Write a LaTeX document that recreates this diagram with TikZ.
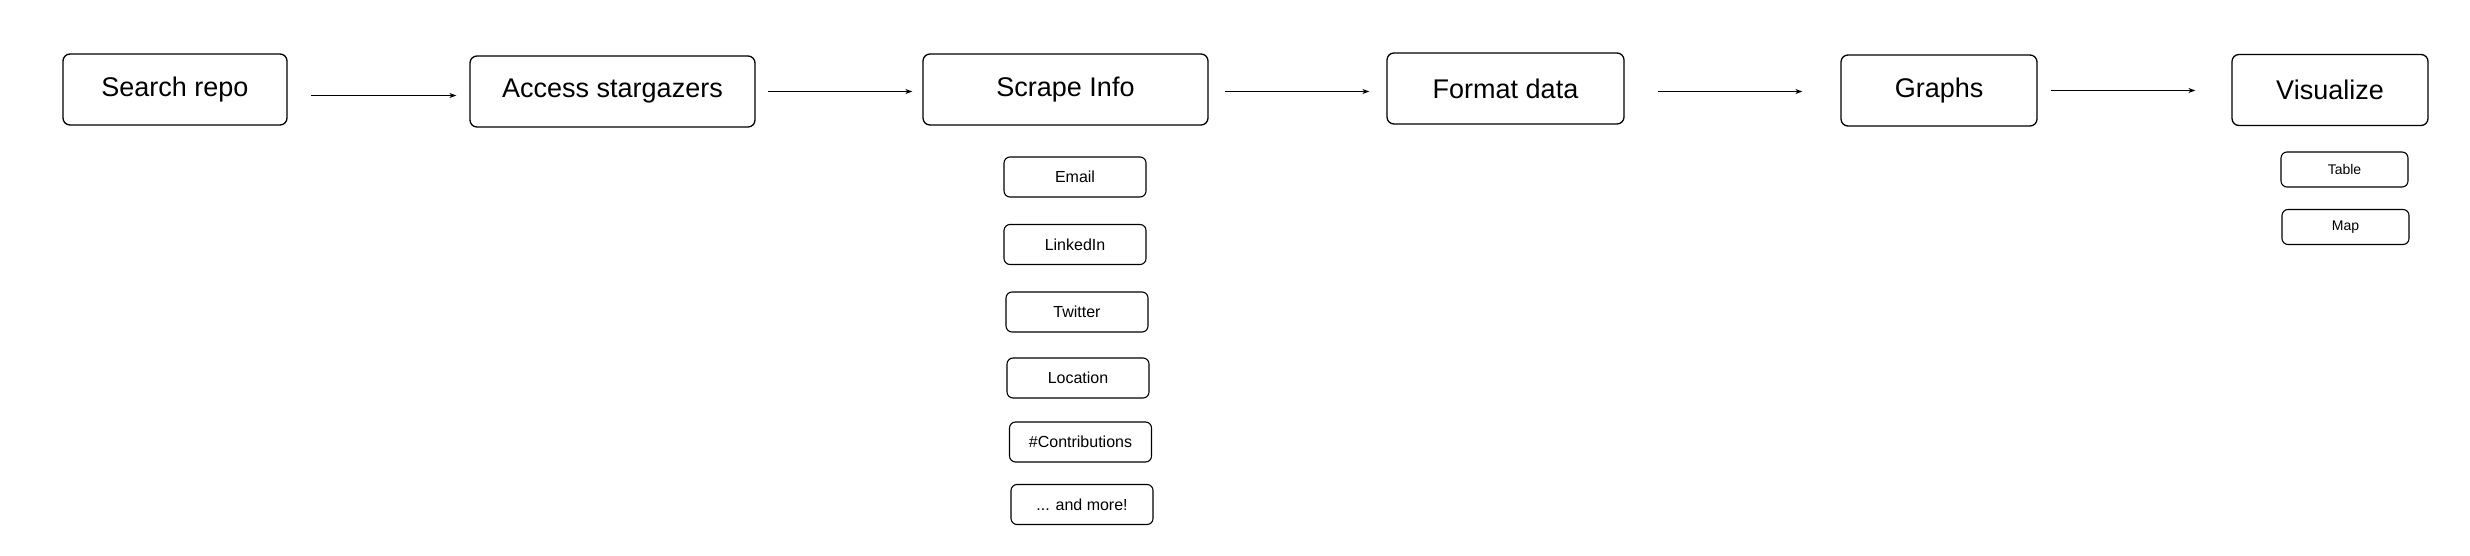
\documentclass[tikz,border=0pt]{standalone}
\usepackage{fontspec}
\setmainfont{Liberation Sans}
\usetikzlibrary{arrows.meta}

\begin{document}
\begin{tikzpicture}[x=1pt,y=-1pt,
  stage/.style={draw,rounded corners=7pt,line width=1.3pt,minimum height=71pt,inner sep=0pt,font=\fontsize{27}{32}\selectfont},
  item/.style={draw,rounded corners=6pt,line width=1.1pt,minimum width=142pt,minimum height=40pt,inner sep=0pt,font=\fontsize{16}{19}\selectfont},
  subitem/.style={item,minimum width=127pt,minimum height=35pt,font=\fontsize{14}{17}\selectfont},
  flow/.style={-{Stealth[length=7pt,width=5pt]},line width=1.1pt}]
\useasboundingbox (0,0) rectangle (2470,556);

% main pipeline
\node[stage,minimum width=224pt] (search) at (175,89.5) {Search repo};
\node[stage,minimum width=285pt] (access) at (612.5,91.5) {Access stargazers};
\node[stage,minimum width=285pt] (scrape) at (1065.5,89.5) {Scrape Info};
\node[stage,minimum width=237pt] (format) at (1505.5,88.5) {Format data};
\node[stage,minimum width=196pt] (graphs) at (1939,90.5) {Graphs};
\node[stage,minimum width=196pt] (visual) at (2330,90) {Visualize};

% scraped fields
\node[item] (email) at (1075,177) {Email};
\node[item] (linkedin) at (1075,244.5) {LinkedIn};
\node[item] (twitter) at (1077,312) {Twitter};
\node[item] (location) at (1078,378) {Location};
\node[item] (contrib) at (1080.5,442) {\#Contributions};
\node[item] (more) at (1082,504.5) {... and more!};

% outputs
\node[subitem] (table) at (2344.5,169.5) {Table};
\node[subitem] (map) at (2345.5,227) {Map};

\draw[flow,shorten <=23pt,shorten >=13pt] ([yshift=-6pt]search.east) -- ([yshift=-6pt]search.east -| access.west);
\draw[flow,shorten <=12pt,shorten >=10pt] (access.east) -- (access.east -| scrape.west);
\draw[flow,shorten <=16pt,shorten >=17pt] ([yshift=-2pt]scrape.east) -- ([yshift=-2pt]scrape.east -| format.west);
\draw[flow,shorten <=33pt,shorten >=38pt] ([yshift=-3pt]format.east) -- ([yshift=-3pt]format.east -| graphs.west);
\draw[flow,shorten <=13pt,shorten >=36pt] (graphs.east) -- (graphs.east -| visual.west);

\end{tikzpicture}
\end{document}
